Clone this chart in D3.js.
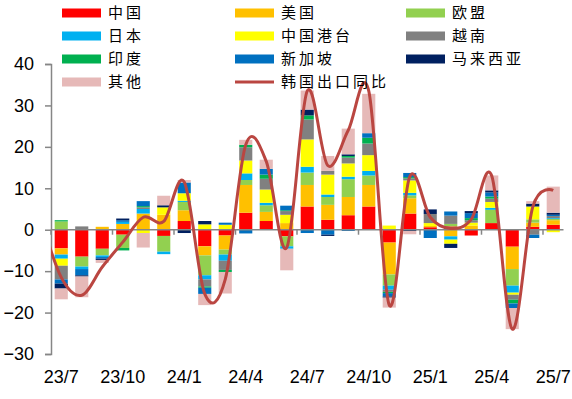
<!DOCTYPE html>
<html><head><meta charset="utf-8">
<script src="https://cdn.jsdelivr.net/npm/d3@7"></script>
<style>body{margin:0;background:#fff}svg{display:block}</style>
</head><body><svg id="c" width="572" height="399"></svg>
<script>
const categories = ["23/7","23/8","23/9","23/10","23/11","23/12","24/1","24/2","24/3","24/4","24/5","24/6","24/7","24/8","24/9","24/10","24/11","24/12","25/1","25/2","25/3","25/4","25/5","25/6","25/7"];
const seriesNames = ["中国","美国","欧盟","日本","中国港台","越南","印度","新加坡","马来西亚","其他"];
const seriesColors = ["#FF0000","#FFC000","#92D050","#00B0F0","#FFFF00","#808080","#00B050","#0070C0","#002060","#E6B9B8"];
const china    = [-4.5,-6.5,-4.6,-1.2,0,-1.5,2.1,-4.0,-1.4,4.1,2.1,-1.6,5.6,2.4,3.5,5.6,-3.1,3.9,0.6,0.8,-1.4,1.6,-4.1,0.7,1.2];
const usa      = [-1.5,0,0.7,1.4,3.9,3.6,2.6,-2.2,-3.4,6.7,2.2,1.6,5.2,3.6,4.4,5.2,-7.7,3.7,0.3,-1.6,1.0,0,-5.4,1.0,1.1];
const eu       = [2.0,-2.4,-1.6,-3.2,0,-3.8,2.0,-4.8,-1.2,1.2,1.6,-2.4,3.0,1.9,4.3,2.3,-2.7,0.7,0,0.6,0,3.2,-4.0,0.8,0.3];
const japan    = [-1.0,-0.6,-0.4,0.5,1.1,-0.6,0.3,-1.0,-1.5,1.6,0.6,-0.6,1.4,0.6,0.6,1.1,-1.0,0.6,0,-0.8,0,0.5,-1.7,0,0.2];
const hktw     = [-1.7,0,0,0,-0.8,1.8,1.8,1.3,1.2,3.1,3.2,2.0,6.6,4.8,3.2,3.8,1.0,3.0,0.7,-1.0,0.7,1.4,-0.5,3.1,-0.6];
const vietnam  = [-3.3,0.8,0,0,0.4,0,0,-1.7,-2.2,3.2,2.6,0.9,4.8,0.9,1.4,2.8,-0.5,0.5,2.2,2.0,0.6,0.8,-1.2,-1.2,0.5];
const india    = [0.3,0,0,-0.6,0.3,0,0,-0.3,-0.5,0.6,1.0,0.2,1.0,0,0.4,1.4,-0.3,0.3,0,0,0.5,0.5,-0.9,0,0];
const singapore= [-1.0,-1.5,-0.4,0.4,1.2,0,2.6,-1.5,0.5,-0.9,1.4,1.1,-0.8,-1.2,-0.3,1.1,-0.8,1.0,-2.0,1.0,1.2,1.0,-1.1,-0.8,0.3];
const malaysia = [-1.2,-0.3,-0.3,0.4,0,0.5,-0.8,0.8,0,0,0,0,1.4,-0.3,0.4,0,-0.3,-0.3,1.1,-1.0,0.5,0.5,0,0.7,0.5];
const others   = [-2.6,-5.0,-0.7,0,-3.5,2.3,0.6,-2.7,-5.2,1.2,2.2,-5.2,4.6,3.6,6.2,9.5,-2.4,-0.8,0,0,0,3.6,-5.1,0.6,6.3];
const lineName = "韩国出口同比";
const lineMonths = ["23/6"].concat(categories);
const lineValues = [3,-11.5,-15.8,-9,-3,3,2,11.5,-15.5,-12,20.5,16.5,-4.3,33.5,15.5,24,33.5,-18.2,12.8,3,0.3,2.5,13,-24,5.5,9.5];
const yTicks = [-30,-20,-10,0,10,20,30,40];
const xTickLabels = ["23/7","23/10","24/1","24/4","24/7","24/10","25/1","25/4","25/7"];

const seriesValues = [china,usa,eu,japan,hktw,vietnam,india,singapore,malaysia,others];
const rows = categories.map((c,i)=>{const o={cat:c};seriesNames.forEach((n,k)=>o[n]=seriesValues[k][i]);return o;});

const svg = d3.select("#c");
const L=51, R=563.5, T=64, B=354, H=399;
const x = d3.scaleBand().domain(categories).range([L,R]).paddingInner(0.36).paddingOuter(0.18);
const xi = d3.scaleLinear().domain([-0.5, categories.length-0.5]).range([L,R]);
const y = d3.scaleLinear().domain([-30,40]).range([B,T]);
const color = d3.scaleOrdinal().domain(seriesNames).range(seriesColors);

// bars
const stacked = d3.stack().keys(seriesNames).offset(d3.stackOffsetDiverging)(rows);
svg.append("g").selectAll("g").data(stacked).join("g")
  .attr("fill", d=>color(d.key))
  .selectAll("rect").data(d=>d).join("rect")
  .attr("x", d=>x(d.data.cat)).attr("width", x.bandwidth())
  .attr("y", d=>y(Math.max(d[0],d[1]))).attr("height", d=>Math.abs(y(d[0])-y(d[1])));

// y axis
const ya = svg.append("g").attr("transform",`translate(${L},0)`)
  .call(d3.axisLeft(y).tickValues(yTicks).tickSize(6).tickSizeOuter(6).tickPadding(11).tickFormat(d3.format("d")));
ya.selectAll("path,line").attr("stroke","#868686").attr("stroke-width",1.5);
ya.selectAll("text").attr("font-family","'Liberation Sans',Arial,sans-serif").attr("font-size",18).attr("fill","#000");

// x axis at zero
const xg = svg.append("g");
xg.append("line").attr("x1",L).attr("x2",R).attr("y1",y(0)).attr("y2",y(0)).attr("stroke","#868686").attr("stroke-width",1.5);
const tickIdx = d3.range(0, categories.length+1, 3);
xg.selectAll("line.t").data(tickIdx).join("line").attr("class","t")
  .attr("x1",i=>xi(i-0.5)).attr("x2",i=>xi(i-0.5)).attr("y1",y(0)).attr("y2",y(0)+5)
  .attr("stroke","#868686").attr("stroke-width",1.5);
svg.append("g").selectAll("text").data(xTickLabels).join("text")
  .attr("x",d=>x(d)+x.bandwidth()/2).attr("y",377).attr("dy","0.35em")
  .attr("text-anchor","middle").attr("font-family","'Liberation Sans',Arial,sans-serif").attr("font-size",18).text(d=>d);

// line
svg.append("clipPath").attr("id","clip").append("rect").attr("x",L).attr("y",0).attr("width",R-L).attr("height",H);
svg.append("path").datum(lineValues).attr("clip-path","url(#clip)")
  .attr("fill","none").attr("stroke","#BA4641").attr("stroke-width",3)
  .attr("d", d3.line().x((d,i)=>xi(i-1)).y(d=>y(d)).curve(d3.curveCardinal.tension(0)));

// legend
const legendItems = seriesNames.map(n=>({name:n,type:"rect"})).concat([{name:lineName,type:"line"}]);
const colX = [62,235,406], rowY = [13,36,59,82];
const lg = svg.append("g").selectAll("g").data(legendItems).join("g")
  .attr("transform",(d,i)=>`translate(${colX[i%3]},${rowY[Math.floor(i/3)]})`);
lg.filter(d=>d.type==="rect").append("rect").attr("x",0).attr("y",-4.5).attr("width",39).attr("height",9).attr("fill",d=>color(d.name));
lg.filter(d=>d.type==="line").append("line").attr("x1",0).attr("x2",39).attr("y1",0).attr("y2",0).attr("stroke","#BA4641").attr("stroke-width",3);
lg.append("text").attr("x",46).attr("y",0).attr("dy","0.36em").attr("font-family","'Noto Sans CJK SC',sans-serif")
  .attr("font-size",15).attr("letter-spacing","3px").attr("fill","#000").text(d=>d.name);
</script></body></html>
